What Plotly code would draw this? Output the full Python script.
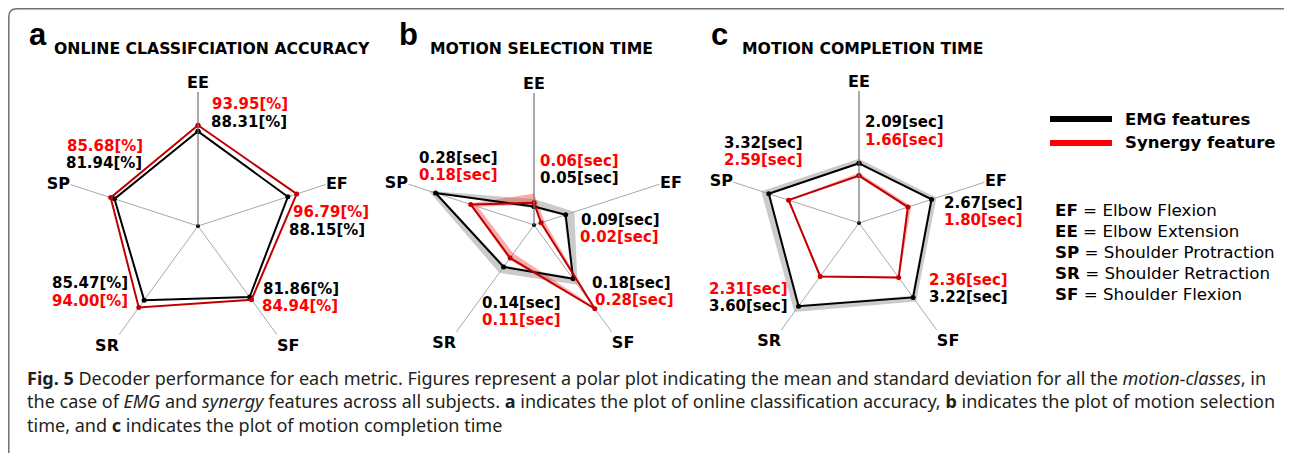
import plotly.graph_objects as go

W, H = 1292, 453
OFF = 8  # the page body margin shifts the figure by this many pixels

# motion classes, clockwise from the top
categories = ["EE", "EF", "SF", "SR", "SP"]

# a: online classification accuracy [%]
acc_emg = [88.31, 88.15, 81.86, 85.47, 81.94]
acc_syn = [93.95, 96.79, 84.94, 94.00, 85.68]

# b: motion selection time [sec], mean and band edges
sel_emg = [0.05, 0.09, 0.18, 0.14, 0.28]
sel_syn = [0.06, 0.02, 0.28, 0.11, 0.18]
sel_emg_lo = [0.045, 0.085, 0.175, 0.135, 0.275]
sel_emg_hi = [0.07, 0.115, 0.20, 0.16, 0.30]
sel_syn_lo = [0.055, 0.02, 0.27, 0.095, 0.16]
sel_syn_hi = [0.085, 0.03, 0.285, 0.115, 0.185]

# c: motion completion time [sec], mean and band edges
comp_emg = [2.09, 2.67, 3.22, 3.60, 3.32]
comp_syn = [1.66, 1.80, 2.36, 2.31, 2.59]
comp_emg_lo = [2.05, 2.62, 3.15, 3.55, 3.28]
comp_emg_hi = [2.25, 2.85, 3.40, 3.85, 3.60]
comp_syn_lo = [1.60, 1.75, 2.33, 2.28, 2.55]
comp_syn_hi = [1.75, 1.92, 2.40, 2.35, 2.62]

abbrev = [("EF", "Elbow Flexion"), ("EE", "Elbow Extension"),
          ("SP", "Shoulder Protraction"), ("SR", "Shoulder Retraction"),
          ("SF", "Shoulder Flexion")]

BLACK = "#000000"
DARKRED = "#c00000"
RED = "#ff0000"
LABEL_FONT = "DejaVu Sans"


def px(x):
    return (x - OFF) / W


def py(y):
    return 1 - (y - OFF) / H


def dom(cx, cy, r):
    return dict(x=[px(cx - r), px(cx + r)], y=[py(cy + r), py(cy - r)])


def closed(vals):
    return vals + vals[:1]


def ring(lo, hi):
    r = hi + hi[:1] + lo[:1] + lo[:0:-1] + lo[:1]
    th = categories + categories[:1] + categories[:1] + categories[:0:-1] + categories[:1]
    return r, th


fig = go.Figure()


def add_chart(sub, emg, syn, bands=None):
    if bands:
        for (lo, hi), col in zip(bands, ["rgba(160,160,160,0.55)", "rgba(240,70,70,0.45)"]):
            r, th = ring(lo, hi)
            fig.add_trace(go.Scatterpolar(r=r, theta=th, mode="lines", fill="toself",
                                          fillcolor=col, line=dict(width=0),
                                          subplot=sub, showlegend=False, hoverinfo="skip"))
    fig.add_trace(go.Scatterpolar(r=closed(emg), theta=closed(categories), mode="lines+markers",
                                  line=dict(color=BLACK, width=2), marker=dict(size=5, color=BLACK),
                                  subplot=sub, showlegend=False))
    fig.add_trace(go.Scatterpolar(r=closed(syn), theta=closed(categories), mode="lines+markers",
                                  line=dict(color=DARKRED, width=2), marker=dict(size=5, color=DARKRED),
                                  subplot=sub, showlegend=False))
    fig.add_trace(go.Scatterpolar(r=[0], theta=categories[:1], mode="markers",
                                  marker=dict(size=4, color=BLACK), subplot=sub, showlegend=False))


add_chart("polar", acc_emg, acc_syn)
add_chart("polar2", sel_emg, sel_syn, [(sel_emg_lo, sel_emg_hi), (sel_syn_lo, sel_syn_hi)])
add_chart("polar3", comp_emg, comp_syn, [(comp_emg_lo, comp_emg_hi), (comp_syn_lo, comp_syn_hi)])


def polar_layout(domain, rmax):
    return dict(
        domain=domain,
        bgcolor="rgba(0,0,0,0)",
        angularaxis=dict(direction="clockwise", rotation=90, showline=False, ticks="",
                         gridcolor="#a8a8a8", gridwidth=1,
                         tickfont=dict(family=LABEL_FONT, size=16, color=BLACK, weight="bold")),
        radialaxis=dict(range=[0, rmax], showgrid=False, showticklabels=False, ticks="",
                        showline=True, linecolor="#808080", linewidth=1, angle=90),
    )


annotations = []


def txt(x, y, text, size, color=BLACK, family=LABEL_FONT, weight="normal", anchor="left"):
    annotations.append(dict(x=px(x), y=py(y), xref="paper", yref="paper", text=text,
                            showarrow=False, xanchor=anchor, yanchor="middle", align="left",
                            font=dict(family=family, size=size, color=color, weight=weight)))


# panel letters and titles
for letter, lx, title, tx in [("a", 27, "ONLINE CLASSIFCIATION ACCURACY", 52),
                              ("b", 397, "MOTION SELECTION TIME", 428),
                              ("c", 709, "MOTION COMPLETION TIME", 740)]:
    txt(lx, 35, letter, 31, family="Liberation Sans", weight="bold")
    txt(tx, 48, title, 15.7, weight="bold")

# value labels: (values, index, color, left x, center y, unit)
value_labels = [
    (acc_syn, 0, RED, 210, 104, "[%]"), (acc_emg, 0, BLACK, 209, 122, "[%]"),
    (acc_syn, 4, RED, 65, 146, "[%]"), (acc_emg, 4, BLACK, 64, 163, "[%]"),
    (acc_syn, 1, RED, 291, 212, "[%]"), (acc_emg, 1, BLACK, 287, 230, "[%]"),
    (acc_emg, 3, BLACK, 50, 283, "[%]"), (acc_syn, 3, RED, 50, 301, "[%]"),
    (acc_emg, 2, BLACK, 261, 289, "[%]"), (acc_syn, 2, RED, 260, 306, "[%]"),
    (sel_emg, 4, BLACK, 417, 158, "[sec]"), (sel_syn, 4, RED, 417, 175, "[sec]"),
    (sel_syn, 0, RED, 538, 161, "[sec]"), (sel_emg, 0, BLACK, 538, 178, "[sec]"),
    (sel_emg, 1, BLACK, 579, 220, "[sec]"), (sel_syn, 1, RED, 578, 237, "[sec]"),
    (sel_emg, 2, BLACK, 590, 283, "[sec]"), (sel_syn, 2, RED, 593, 300, "[sec]"),
    (sel_emg, 3, BLACK, 480, 303, "[sec]"), (sel_syn, 3, RED, 480, 320, "[sec]"),
    (comp_emg, 0, BLACK, 863, 122, "[sec]"), (comp_syn, 0, RED, 863, 140, "[sec]"),
    (comp_emg, 4, BLACK, 722, 143, "[sec]"), (comp_syn, 4, RED, 722, 160, "[sec]"),
    (comp_emg, 1, BLACK, 942, 203, "[sec]"), (comp_syn, 1, RED, 942, 220, "[sec]"),
    (comp_syn, 2, RED, 927, 280, "[sec]"), (comp_emg, 2, BLACK, 927, 297, "[sec]"),
    (comp_syn, 3, RED, 707, 289, "[sec]"), (comp_emg, 3, BLACK, 707, 306, "[sec]"),
]
for vals, i, col, x, y, unit in value_labels:
    txt(x, y, f"{vals[i]:.2f}{unit}", 15, color=col, weight="bold")

# legend
shapes = []
for y, col, name in [(119, BLACK, "EMG features"), (143, RED, "Synergy feature")]:
    shapes.append(dict(type="line", xref="paper", yref="paper", x0=px(1050), x1=px(1112),
                       y0=py(y), y1=py(y), line=dict(color=col, width=6)))
    txt(1123, y, name, 16.5, weight="bold")

for k, (ab, full) in enumerate(abbrev):
    txt(1053, 210 + 21 * k, f"<b>{ab}</b> = {full}", 16.7)

# caption
cap = [
    "<b>Fig. 5</b> Decoder performance for each metric. Figures represent a polar plot indicating "
    "the mean and standard deviation for all the <i>motion-classes</i>, in",
    "the case of <i>EMG</i> and <i>synergy</i> features across all subjects. <b>a</b> indicates the "
    "plot of online classification accuracy, <b>b</b> indicates the plot of motion selection",
    "time, and <b>c</b> indicates the plot of motion completion time",
]
txt(25, 401, "<br>".join(cap), 18.05, color="#231f20", family="Noto Sans")

# frame with rounded top corners
pts = f"M {px(8.8)},{py(470)} L {px(8.8)},{py(17)} Q {px(8.8)},{py(8.8)} {px(17)},{py(8.8)} " \
      f"L {px(1282)},{py(8.8)} Q {px(1291)},{py(8.8)} {px(1291)},{py(17)} L {px(1291)},{py(470)}"
shapes.append(dict(type="path", xref="paper", yref="paper", path=pts,
                   line=dict(color="#707070", width=1.5)))

fig.update_layout(
    width=W, height=H,
    margin=dict(l=0, r=0, t=0, b=0),
    paper_bgcolor="white", plot_bgcolor="white",
    polar=polar_layout(dom(198, 226, 134), 125),
    polar2=polar_layout(dom(534, 225, 132), 0.357),
    polar3=polar_layout(dom(859, 223, 132), 4.62),
    annotations=annotations,
    shapes=shapes,
    showlegend=False,
)

fig.write_html("out.html")
